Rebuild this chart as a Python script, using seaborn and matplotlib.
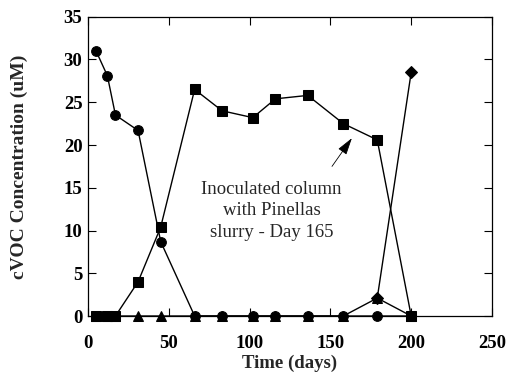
import matplotlib
matplotlib.use("Agg")
import matplotlib.pyplot as plt
import seaborn as sns

# Sampling days for the column
days = [5, 12, 17, 31, 45, 66, 83, 102, 116, 136, 158, 179, 200]

# cVOC concentrations (uM)
circle_vals = [31.0, 28.1, 23.5, 21.7, 8.7, 0, 0, 0, 0, 0, 0, 0, 0]
square_vals = [0, 0, 0, 4.0, 10.4, 26.5, 24.0, 23.2, 25.4, 25.8, 22.5, 20.6, 0]
triangle_vals = [0, 0, 0, 0, 0, 0, 0, 0, 0, 0, 0, 2.1, 0]
diamond_days = [179, 200]
diamond_vals = [2.1, 28.5]

x_ticks = [0, 50, 100, 150, 200, 250]
y_ticks = [0, 5, 10, 15, 20, 25, 30, 35]

sns.set_theme(style="ticks")
plt.rcParams["font.family"] = ["Liberation Serif", "DejaVu Serif"]

fig = plt.figure(figsize=(5.1, 3.72), dpi=100)
ax = fig.add_axes([0.1725, 0.1505, 0.7922, 0.8045])

common = dict(color="black", linewidth=1.0, estimator=None, sort=False,
              markeredgecolor="black", ax=ax, legend=False, clip_on=False)

sns.lineplot(x=diamond_days, y=diamond_vals, marker="D", markersize=6, **common)
sns.lineplot(x=days, y=triangle_vals, marker="^", markersize=7, **common)
sns.lineplot(x=days, y=circle_vals, marker="o", markersize=7, **common)
sns.lineplot(x=days, y=square_vals, marker="s", markersize=7.2, **common)

ax.set_xlim(0, 250)
ax.set_ylim(0, 35)
ax.set_xticks(x_ticks)
ax.set_yticks(y_ticks)
ax.tick_params(direction="in", length=6, width=0.8, top=True, right=True,
               labelsize=13.5, colors="black")
ax.tick_params(axis="x", pad=14)
ax.tick_params(axis="y", pad=4)
for lab in ax.get_xticklabels() + ax.get_yticklabels():
    lab.set_fontweight("bold")
for sp in ax.spines.values():
    sp.set_linewidth(0.9)
    sp.set_color("black")

ax.set_xlabel("Time (days)", fontsize=13.5, fontweight="bold", labelpad=1.5)
ax.set_ylabel("cVOC Concentration (uM)", fontsize=14, fontweight="bold", labelpad=26)

ax.text(113.5, 12.3, "Inoculated column\nwith Pinellas\nslurry - Day 165",
        ha="center", va="center", fontsize=13.5, linespacing=1.35)
ax.annotate("", xy=(163.3, 20.8), xytext=(151, 17.5),
            arrowprops=dict(arrowstyle="-|>,head_length=0.75,head_width=0.22",
                            color="black", lw=0.6,
                            mutation_scale=14, shrinkA=0, shrinkB=0))

fig.savefig("out.png", dpi=100)
